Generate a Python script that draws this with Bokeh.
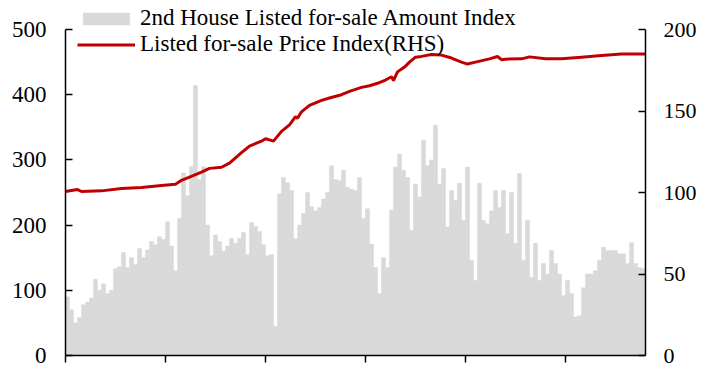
from bokeh.plotting import figure
from bokeh.models import Range1d, LinearAxis, FixedTicker, Legend, LegendItem, ColumnDataSource
from bokeh.embed import file_html
from bokeh.resources import INLINE
import numpy as np

# Weekly 2nd-house listed-for-sale amount index (LHS)
amount_index = [90, 70, 50, 58, 78, 82, 88, 117, 100, 110, 95, 100, 133, 136, 158, 135, 150, 140, 164, 150,
                162, 175, 170, 182, 178, 205, 168, 130, 210, 280, 245, 290, 414, 270, 290, 200, 153, 185, 175, 160,
                168, 180, 172, 180, 189, 155, 204, 198, 190, 170, 153, 155, 45, 248, 273, 265, 253, 179, 200, 218,
                250, 228, 222, 227, 240, 250, 291, 270, 268, 284, 258, 255, 253, 273, 210, 225, 171, 135, 95, 150,
                135, 223, 289, 309, 284, 273, 192, 263, 243, 330, 291, 300, 353, 263, 287, 197, 253, 238, 264, 207,
                289, 146, 115, 264, 207, 202, 222, 253, 227, 253, 187, 250, 172, 279, 146, 207, 120, 172, 115, 141,
                125, 161, 141, 125, 92, 115, 95, 59, 61, 104, 125, 125, 130, 146, 166, 161, 161, 161, 156, 156,
                141, 173, 141, 135, 133]

# Listed-for-sale price index (RHS), sampled at week positions
price_week = [0, 3, 4, 9, 14, 19, 24, 27.5, 29, 31, 34, 36, 39, 41, 44, 46, 49, 50, 52, 54, 56, 57.5, 58, 59,
              61, 64, 66, 69, 71, 74, 76, 78, 80, 81.5, 82, 83, 85, 86, 87.5, 89, 91.5, 94, 96.5, 99, 100.5,
              102.5, 106, 108, 109, 110, 114, 116, 120, 124, 129, 134, 139, 145]
price_index = [100.6, 101.8, 100.6, 101, 102.5, 103, 104.3, 105, 107.5, 109.5, 112.5, 114.8, 115.5, 118, 124.5,
               128.5, 131.5, 133, 131.5, 137.5, 141.5, 146.5, 145.5, 149.5, 153.5, 156.5, 158, 160, 162, 164.5,
               165.5, 167, 169, 171, 168.7, 174, 177.5, 180, 183, 183.5, 184.7, 184.3, 182.5, 180, 178.8, 180,
               182, 183.4, 181.5, 181.8, 182, 183.2, 182, 182, 183, 184, 185, 185]

left_ticks = [0, 100, 200, 300, 400, 500]
right_ticks = [0, 50, 100, 150, 200]
bottom_ticks = [0, 25, 50, 75, 100, 125]

n = len(amount_index)
weeks = np.arange(n) + 0.5

FONT = "Liberation Serif"

# The frame reaches the top of the page so that the legend (clipped to the frame) fits above
# the axes' upper bounds; axis lines are bounded to 0-500 / 0-200.
HEAD = 355 / 326
p = figure(frame_width=580, frame_height=355, output_backend="svg", toolbar_location=None,
           x_range=Range1d(0, n), y_range=Range1d(0, 500 * HEAD),
           min_border_left=65, min_border_right=74, min_border_top=0, min_border_bottom=17)
p.extra_y_ranges = {"rhs": Range1d(0, 200 * HEAD)}
p.outline_line_color = None
p.xgrid.visible = False
p.ygrid.visible = False
p.background_fill_color = "white"

src = ColumnDataSource(dict(x=weeks, top=amount_index))
bars = p.vbar(x="x", top="top", width=1.0, source=src, fill_color="#d9d9d9",
              line_color="#d9d9d9", line_width=0.5)
line = p.line(price_week, price_index, y_range_name="rhs", line_color="#c00000", line_width=3)

for ax in p.yaxis:
    ax.ticker = FixedTicker(ticks=left_ticks)
    ax.bounds = (0, 500)
    ax.major_tick_in = 7
    ax.major_tick_out = 0
    ax.minor_tick_line_color = None
    ax.axis_line_width = 1.5
    ax.major_tick_line_width = 1.5
    ax.major_label_standoff = 19
    ax.major_label_text_font = FONT
    ax.major_label_text_font_size = "23px"
    ax.major_label_text_color = "black"

rax = LinearAxis(y_range_name="rhs", ticker=FixedTicker(ticks=right_ticks), bounds=(0, 200))
rax.major_tick_in = 7
rax.major_tick_out = 0
rax.minor_tick_line_color = None
rax.axis_line_width = 1.5
rax.major_tick_line_width = 1.5
rax.major_label_standoff = 18
rax.major_label_text_font = FONT
rax.major_label_text_font_size = "22px"
rax.major_label_text_color = "black"
p.add_layout(rax, "right")

for ax in p.xaxis:
    ax.ticker = FixedTicker(ticks=bottom_ticks)
    ax.major_tick_in = 0
    ax.major_tick_out = 7
    ax.minor_tick_line_color = None
    ax.axis_line_width = 1.5
    ax.major_tick_line_width = 1.5
    ax.major_label_overrides = {t: "" for t in bottom_ticks}
    ax.major_label_standoff = 0


def make_legend(label, renderer, loc):
    lg = Legend(items=[LegendItem(label=label, renderers=[renderer])], location=loc)
    lg.glyph_width = 58
    lg.glyph_height = 15
    lg.label_standoff = 5
    lg.label_text_font = FONT
    lg.label_text_font_size = "23px"
    lg.label_text_color = "black"
    lg.label_height = 24
    lg.spacing = 0
    lg.padding = 0
    lg.margin = 0
    lg.border_line_color = None
    lg.background_fill_alpha = 0
    p.add_layout(lg, "center")


make_legend("2nd House Listed for-sale Amount Index", bars, (12, 324))
make_legend("Listed for-sale Price Index(RHS)", line, (12, 298))

open("out.html", "w").write(file_html(p, INLINE))
